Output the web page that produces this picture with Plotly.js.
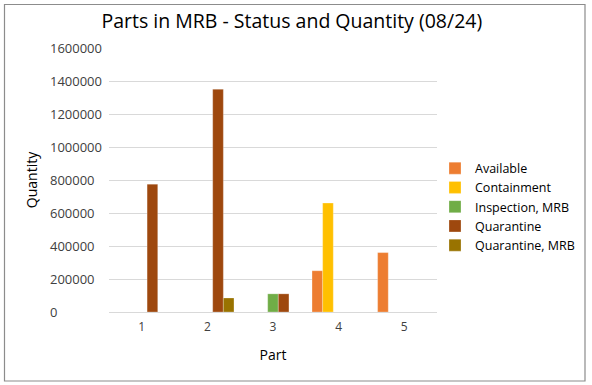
<!DOCTYPE html>
<html>
<head>
<meta charset="utf-8">
<script src="https://cdn.plot.ly/plotly-3.0.1.min.js"></script>
<style>
html, body { margin: 0; padding: 0; background: #fff; }
#chart { width: 592px; height: 385px; }
</style>
</head>
<body>
<div id="chart"></div>
<script>
const categories = ['1', '2', '3', '4', '5'];
const seriesNames = ['Available', 'Containment', 'Inspection, MRB', 'Quarantine', 'Quarantine, MRB'];
const available = [null, null, null, 250000, 360000];
const containment = [null, null, null, 660000, null];
const inspectionMRB = [null, null, 110000, null, null];
const quarantine = [775000, 1350000, 110000, null, null];
const quarantineMRB = [null, 85000, null, null, null];
const yTickVals = [0, 200000, 400000, 600000, 800000, 1000000, 1200000, 1400000, 1600000];

const colors = ['#ED7D31', '#FFC000', '#70AD47', '#9E480E', '#997300'];
const seriesValues = [available, containment, inspectionMRB, quarantine, quarantineMRB];

const fontFam = 'Open Sans, Liberation Sans, sans-serif';

const traces = seriesValues.map((vals, i) => ({
  type: 'bar',
  name: seriesNames[i],
  x: categories,
  y: vals,
  marker: { color: colors[i], line: { color: 'rgba(255,255,255,0.5)', width: 0.5 } },
  hoverinfo: 'x+y+name'
}));

const maxLen = String(yTickVals[yTickVals.length - 1]).length;
const yTickText = yTickVals.map(v => String(v) + '\u2007'.repeat(maxLen - String(v).length));

const layout = {
  width: 592,
  height: 385,
  margin: { l: 109, r: 155, t: 48, b: 73, pad: 0, autoexpand: false },
  paper_bgcolor: '#ffffff',
  plot_bgcolor: '#ffffff',
  font: { family: fontFam, size: 12, color: '#404040' },
  title: {
    text: 'Parts in MRB - Status and Quantity (08/24)',
    font: { family: fontFam, size: 19.5, color: '#000000' },
    x: 0.493, xanchor: 'center',
    y: 0.945, yanchor: 'middle', yref: 'container'
  },
  barmode: 'group',
  bargap: 0.19,
  bargroupgap: 0,
  showlegend: true,
  legend: {
    xref: 'container', yref: 'container',
    x: 435 / 592, xanchor: 'left',
    y: 1 - 207 / 385, yanchor: 'middle',
    font: { family: fontFam, size: 12.5, color: '#000000' },
    bgcolor: 'rgba(0,0,0,0)',
    traceorder: 'normal',
    itemwidth: 30
  },
  xaxis: {
    type: 'category',
    showgrid: false,
    showline: false,
    zeroline: false,
    ticks: '',
    ticklabelstandoff: 6,
    tickfont: { family: fontFam, size: 12, color: '#404040' },
    title: { text: 'Part', font: { family: fontFam, size: 14, color: '#000000' }, standoff: 16 }
  },
  yaxis: {
    range: [0, 1600000],
    tickmode: 'array',
    tickvals: yTickVals,
    ticktext: yTickText,
    showgrid: true,
    gridcolor: '#d9d9d9',
    zeroline: true,
    zerolinecolor: '#d9d9d9',
    showline: false,
    ticks: '',
    ticklen: 0,
    ticklabelstandoff: 6,
    tickfont: { family: fontFam, size: 13, color: '#404040' },
    title: { text: 'Quantity', font: { family: fontFam, size: 14, color: '#000000' }, standoff: 9 }
  },
  shapes: [{
    type: 'rect', xref: 'paper', yref: 'paper',
    x0: (4.5 - 109) / 328, x1: (585 - 109) / 328,
    y0: (312 - 381) / 264, y1: (312 - 4.5) / 264,
    line: { color: '#8c8c8c', width: 1.2 },
    fillcolor: 'rgba(0,0,0,0)',
    layer: 'below'
  }]
};

Plotly.newPlot('chart', traces, layout, { displayModeBar: false, staticPlot: true });
</script>
</body>
</html>
